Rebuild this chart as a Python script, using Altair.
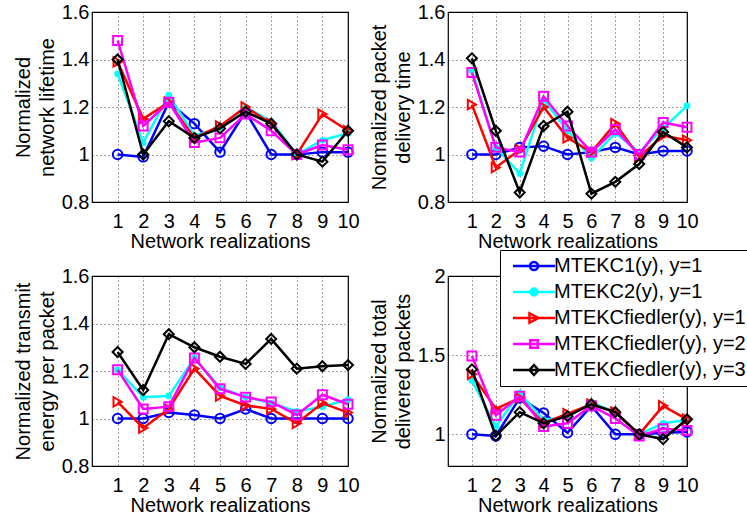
import altair as alt
import pandas as pd

FONT = "Liberation Sans"

realizations = list(range(1, 11))
series_names = ["MTEKC1(y), y=1", "MTEKC2(y), y=1", "MTEKCfiedler(y), y=1",
                "MTEKCfiedler(y), y=2", "MTEKCfiedler(y), y=3"]
series_colors = ["#0000ff", "#00ffff", "#ff0000", "#ff00ff", "#000000"]
series_shapes = ["circle", "circle", "triangle-right", "square", "diamond"]
series_filled = [False, True, False, False, False]
series_sizes = [90, 45, 90, 80, 100]

# Normalized network lifetime
lifetime_mtekc1 = [1.00, 0.99, 1.22, 1.13, 1.01, 1.18, 1.00, 1.00, 1.01, 1.01]
lifetime_mtekc2 = [1.34, 1.05, 1.25, 1.08, 1.11, 1.20, 1.14, 1.00, 1.06, 1.09]
lifetime_fied1 = [1.39, 1.15, 1.22, 1.07, 1.12, 1.20, 1.13, 1.00, 1.17, 1.10]
lifetime_fied2 = [1.48, 1.12, 1.22, 1.05, 1.07, 1.17, 1.10, 1.00, 1.04, 1.02]
lifetime_fied3 = [1.40, 1.00, 1.14, 1.07, 1.11, 1.18, 1.13, 1.00, 0.97, 1.10]

# Normalized packet delivery time
delay_mtekc1 = [1.00, 1.00, 1.03, 1.035, 1.00, 1.01, 1.03, 1.00, 1.015, 1.015]
delay_mtekc2 = [1.355, 1.03, 0.92, 1.23, 1.10, 0.985, 1.09, 1.01, 1.11, 1.205]
delay_fied1 = [1.21, 0.945, 1.02, 1.20, 1.07, 1.01, 1.13, 0.99, 1.08, 1.06]
delay_fied2 = [1.345, 1.03, 1.01, 1.245, 1.12, 1.01, 1.105, 1.00, 1.135, 1.115]
delay_fied3 = [1.405, 1.10, 0.84, 1.12, 1.18, 0.835, 0.885, 0.96, 1.095, 1.03]

# Normalized transmit energy per packet
energy_mtekc1 = [1.00, 1.00, 1.025, 1.015, 1.00, 1.04, 1.00, 1.00, 1.00, 1.00]
energy_mtekc2 = [1.205, 1.09, 1.095, 1.255, 1.13, 1.09, 1.065, 1.03, 1.05, 1.08]
energy_fied1 = [1.07, 0.96, 1.04, 1.21, 1.095, 1.055, 1.04, 0.98, 1.065, 1.025]
energy_fied2 = [1.205, 1.04, 1.05, 1.255, 1.125, 1.09, 1.07, 1.015, 1.10, 1.06]
energy_fied3 = [1.28, 1.12, 1.355, 1.30, 1.26, 1.23, 1.335, 1.21, 1.22, 1.225]

# Normalized total delivered packets
packets_mtekc1 = [1.00, 0.99, 1.23, 1.135, 1.01, 1.18, 1.00, 1.00, 1.01, 1.015]
packets_mtekc2 = [1.34, 1.05, 1.26, 1.09, 1.11, 1.20, 1.14, 1.00, 1.07, 1.09]
packets_fied1 = [1.38, 1.16, 1.23, 1.07, 1.13, 1.19, 1.14, 1.00, 1.18, 1.095]
packets_fied2 = [1.495, 1.12, 1.24, 1.05, 1.07, 1.18, 1.10, 0.99, 1.035, 1.025]
packets_fied3 = [1.41, 0.99, 1.14, 1.07, 1.115, 1.19, 1.14, 1.00, 0.97, 1.095]

# legend symbols: line with marker (custom paths, unit = sqrt(symbolSize)/2 px)
LINE = "M-0.6,0L7.8,0"
legend_paths = [
    LINE + "M4.4,0A0.8,0.8,0,1,1,2.8,0A0.8,0.8,0,1,1,4.4,0Z",
    LINE + "M4.3,0A0.7,0.7,0,1,1,2.9,0A0.7,0.7,0,1,1,4.3,0Z",
    LINE + "M2.7,-0.95L2.7,0.95L4.5,0Z",
    LINE + "M2.85,-0.75L4.35,-0.75L4.35,0.75L2.85,0.75Z",
    LINE + "M3.6,-1L4.5,0L3.6,1L2.7,0Z",
]
legend_fills = ["transparent", "#00ffff", "transparent", "transparent", "transparent"]


def panel(series_values, ytitle, ydomain, yticks, width, legend=False):
    rows = []
    for name, vals in zip(series_names, series_values):
        for x, v in zip(realizations, vals):
            rows.append({"series": name, "x": x, "v": v})
    df = pd.DataFrame(rows)
    base = alt.Chart(df)
    xenc = alt.X("x:Q", scale=alt.Scale(domain=[0, 10], nice=False, zero=False),
                 axis=alt.Axis(values=realizations, title="Network realizations",
                               labelOverlap=False, labelFlush=False,
                               labelPadding=9, titlePadding=0))
    yenc = alt.Y("v:Q", scale=alt.Scale(domain=ydomain, nice=False, zero=False),
                 axis=alt.Axis(values=yticks, format="~g", title=ytitle,
                               labelOverlap=False, labelFlush=False,
                               labelPadding=3, titlePadding=4))
    layers = []
    for i, name in enumerate(series_names):
        f = base.transform_filter(alt.datum.series == name)
        layers.append(f.mark_line(color=series_colors[i], strokeWidth=2.5).encode(x=xenc, y=yenc))
        layers.append(f.mark_point(shape=series_shapes[i], color=series_colors[i],
                                   filled=series_filled[i], size=series_sizes[i],
                                   strokeWidth=2, opacity=1).encode(x=xenc, y=yenc))
    if legend:
        lg = alt.Legend(title=None, orient="none", legendX=52, legendY=-26,
                        symbolSize=100, labelOffset=28, labelFontSize=20, labelFont=FONT,
                        labelColor="black", labelLimit=400, padding=6, rowPadding=6,
                        strokeColor="black", fillColor="white", symbolStrokeWidth=2.5)
        layers.append(
            base.transform_filter("false").mark_point(strokeWidth=2.5, opacity=1).encode(
                x=xenc, y=yenc,
                stroke=alt.Stroke("series:N", scale=alt.Scale(domain=series_names, range=series_colors), legend=lg),
                fill=alt.Fill("series:N", scale=alt.Scale(domain=series_names, range=legend_fills), legend=lg),
                shape=alt.Shape("series:N", scale=alt.Scale(domain=series_names, range=legend_paths), legend=lg),
            )
        )
    return alt.layer(*layers).properties(width=width, height=190)


p1 = panel([lifetime_mtekc1, lifetime_mtekc2, lifetime_fied1, lifetime_fied2, lifetime_fied3],
           ["Normalized", "network lifetime"], [0.8, 1.6], [0.8, 1.0, 1.2, 1.4, 1.6], 256)
p2 = panel([delay_mtekc1, delay_mtekc2, delay_fied1, delay_fied2, delay_fied3],
           ["Normalized packet", "delivery time"], [0.8, 1.6], [0.8, 1.0, 1.2, 1.4, 1.6], 239)
p3 = panel([energy_mtekc1, energy_mtekc2, energy_fied1, energy_fied2, energy_fied3],
           ["Normalized transmit", "energy per packet"], [0.8, 1.6], [0.8, 1.0, 1.2, 1.4, 1.6], 256)
p4 = panel([packets_mtekc1, packets_mtekc2, packets_fied1, packets_fied2, packets_fied3],
           ["Normalized total", "delivered packets"], [0.8, 2.0], [1.0, 1.5, 2.0], 239, legend=True)

chart = alt.concat(p1, p2, p3, p4, columns=2, spacing={"row": 74, "column": 100}, bounds="flush").resolve_scale(
    x="independent", y="independent", stroke="independent", fill="independent", shape="independent"
).resolve_legend(stroke="independent", fill="independent", shape="independent").properties(
    autosize=alt.AutoSizeParams(type="none"),
    padding={"left": 92, "top": 12, "right": 655, "bottom": 507}, background="white"
).configure_axis(
    labelFont=FONT, labelFontSize=20, labelColor="black",
    titleFont=FONT, titleFontSize=20, titleFontWeight="normal", titleColor="black",
    titleLineHeight=24, grid=True, gridColor="black", gridDash=[1, 3], gridOpacity=0.7,
    gridWidth=1, ticks=False, domain=False
).configure_view(stroke="black", strokeWidth=1.2)

chart.save("out.html", embed_options={"renderer": "svg", "actions": False})
